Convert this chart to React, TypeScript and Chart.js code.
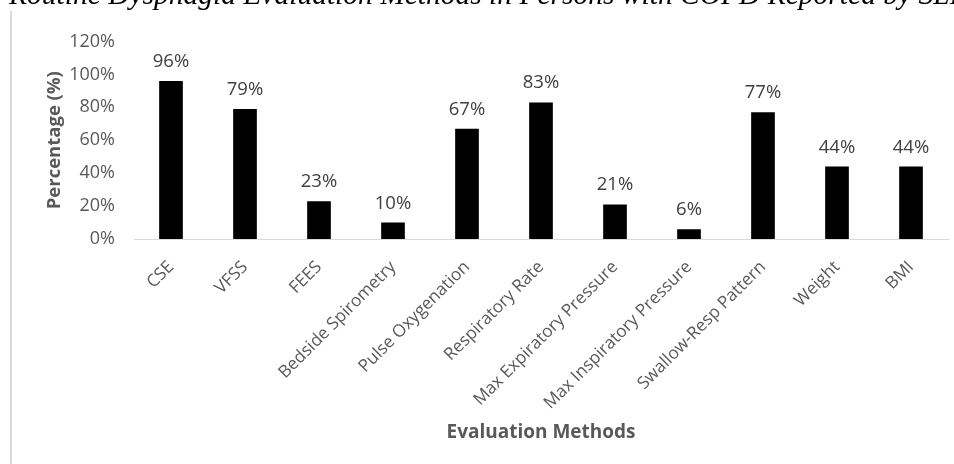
import React, { useEffect, useRef } from "react";
import { Chart, registerables } from "chart.js";

Chart.register(...registerables);

// Evaluation methods and the share of SLPs reporting each one (%)
const methods: string[] = [
  "CSE",
  "VFSS",
  "FEES",
  "Bedside Spirometry",
  "Pulse Oxygenation",
  "Respiratory Rate",
  "Max Expiratory Pressure",
  "Max Inspiratory Pressure",
  "Swallow-Resp Pattern",
  "Weight",
  "BMI",
];
const percentages: number[] = [96, 79, 23, 10, 67, 83, 21, 6, 77, 44, 44];

const yMin = 0;
const yMax = 120;
const yStep = 20;

const titleText =
  "Routine Dysphagia Evaluation Methods in Persons with COPD Reported by SLPs";

const FONT = "'Open Sans', 'Noto Sans', sans-serif";

// Draws the percentage above each bar
const valueLabels = {
  id: "valueLabels",
  afterDatasetsDraw(chart: any) {
    const { ctx } = chart;
    const meta = chart.getDatasetMeta(0);
    const data = chart.data.datasets[0].data as number[];
    ctx.save();
    ctx.font = `18.5px ${FONT}`;
    ctx.fillStyle = "#404040";
    ctx.textAlign = "center";
    ctx.textBaseline = "alphabetic";
    meta.data.forEach((bar: any, i: number) => {
      ctx.fillText(`${data[i]}%`, bar.x, bar.y - 14);
    });
    ctx.restore();
  },
};

export default function App() {
  const canvasRef = useRef<HTMLCanvasElement | null>(null);

  useEffect(() => {
    if (!canvasRef.current) return;
    const chart = new Chart(canvasRef.current, {
      type: "bar",
      data: {
        labels: methods,
        datasets: [
          {
            data: percentages,
            backgroundColor: "#000000",
            borderWidth: 0,
            barPercentage: 0.32,
            categoryPercentage: 1,
          },
        ],
      },
      options: {
        responsive: false,
        animation: false,
        layout: {
          padding: { top: 41.5, right: 6, bottom: 19.6, left: 43.9 },
        },
        plugins: {
          legend: { display: false },
          tooltip: { enabled: false },
        },
        scales: {
          x: {
            grid: { display: false, drawTicks: false },
            border: { display: true, color: "#d9d9d9", width: 1 },
            ticks: {
              autoSkip: false,
              maxRotation: 45,
              minRotation: 45,
              padding: 18,
              color: "#595959",
              font: { family: FONT, size: 17.2 },
            },
            title: {
              display: true,
              text: "Evaluation Methods",
              color: "#595959",
              font: { family: FONT, size: 19, weight: "bold" },
              padding: 0,
            },
            afterFit(scale: any) {
              scale.height = 205.4;
            },
          },
          y: {
            min: yMin,
            max: yMax,
            grid: { display: false, drawTicks: false },
            border: { display: false },
            ticks: {
              stepSize: yStep,
              padding: 19,
              color: "#595959",
              font: { family: FONT, size: 18 },
              callback: (v: any) => `${v}%`,
            },
            title: {
              display: true,
              text: "Percentage (%)",
              color: "#595959",
              font: { family: FONT, size: 18.5, weight: "bold" },
              padding: 0,
            },
            afterFit(scale: any) {
              scale.width = 90.1;
            },
          },
        },
      },
      plugins: [valueLabels],
    });
    return () => chart.destroy();
  }, []);

  return (
    <div
      style={{
        position: "absolute",
        left: 0,
        top: 0,
        width: 954,
        height: 464,
        overflow: "hidden",
        background: "#ffffff",
      }}
    >
      <canvas ref={canvasRef} width={954} height={464} style={{ display: "block" }} />
      <div
        style={{
          position: "absolute",
          left: 10,
          top: 11,
          width: 2,
          height: 453,
          background: "#dadada",
        }}
      />
      <div
        style={{
          position: "absolute",
          left: 9,
          top: -19.7,
          fontFamily: "'Liberation Serif', 'Times New Roman', serif",
          fontStyle: "italic",
          fontSize: 29.5,
          lineHeight: "29.5px",
          whiteSpace: "nowrap",
          color: "#000000",
        }}
      >
        {titleText}
      </div>
    </div>
  );
}
